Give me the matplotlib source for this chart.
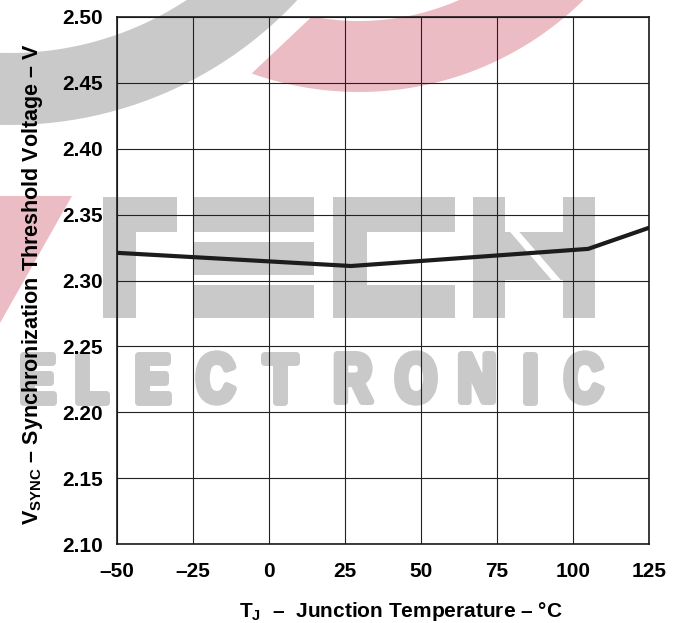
import numpy as np
import matplotlib
matplotlib.use('Agg')
import matplotlib.pyplot as plt
from matplotlib.patches import Polygon, Rectangle, PathPatch
from matplotlib.textpath import TextPath
from matplotlib.font_manager import FontProperties
from matplotlib.transforms import Affine2D

# junction temperature (degC) vs sync threshold voltage (V)
temp_c = [-50, 27, 105, 125]
v_sync = [2.321, 2.311, 2.324, 2.340]

x_ticks = [-50, -25, 0, 25, 50, 75, 100, 125]
y_ticks = [2.10, 2.15, 2.20, 2.25, 2.30, 2.35, 2.40, 2.45, 2.50]

WM_GRAY = '#c9c9c9'
WM_PINK = '#ecbcc5'

plt.rcParams['font.family'] = ['Liberation Sans', 'DejaVu Sans']
plt.rcParams['font.weight'] = 'bold'
plt.rcParams['mathtext.fontset'] = 'custom'
plt.rcParams['mathtext.rm'] = 'Liberation Sans:bold'
plt.rcParams['mathtext.bf'] = 'Liberation Sans:bold'


def ring_arc(cx, cy, r_in, r_out, a_out, a_end, a_in):
    # closed band between two arcs, ends need not be radial
    t_out = np.radians(np.linspace(a_out, a_end, 80))
    t_in = np.radians(np.linspace(a_end, a_in, 80))
    outer = np.column_stack([cx + r_out * np.cos(t_out), cy + r_out * np.sin(t_out)])
    inner = np.column_stack([cx + r_in * np.cos(t_in), cy + r_in * np.sin(t_in)])
    return np.vstack([outer, inner])


def draw_watermark(fig):
    # background logo, laid out in image pixels (y pointing down)
    bg = fig.add_axes([0, 0, 1, 1], zorder=0)
    bg.set_xlim(0, 674)
    bg.set_ylim(623, 0)
    bg.axis('off')
    bg.add_patch(Polygon(ring_arc(10, -268, 321, 393, 165, 20, 165), color=WM_GRAY, lw=0))
    bg.add_patch(Polygon(ring_arc(359, -228, 249, 320, 109.6, 30, 100.9), color=WM_PINK, lw=0))
    bg.add_patch(Polygon([(0, 196), (72, 196), (0, 323)], color=WM_PINK, lw=0))

    # blocky "TECH"
    blocks = [(103, 197, 177, 232), (103, 232, 136, 318),
              (193, 197, 314, 232), (193, 242, 314, 275), (193, 285, 314, 318),
              (333, 197, 455, 232), (333, 232, 367, 285), (333, 285, 455, 318),
              (473, 197, 505, 318), (563, 197, 595, 318), (505, 232, 563, 280)]
    for x0, y0, x1, y1 in blocks:
        bg.add_patch(Rectangle((x0, y0), x1 - x0, y1 - y0, color=WM_GRAY, lw=0))
    bg.plot([513, 558], [230, 282], color='white', lw=5, solid_capstyle='butt')

    # heavy condensed "ELECTRONIC" as outlines
    fp = FontProperties(family='Liberation Sans', weight='bold')
    s = 47 / TextPath((0, 0), 'E', size=1, prop=fp).get_extents().height
    for ch, xc in zip('ELECTRONIC', [38, 92, 153, 216, 280, 354, 416, 477, 530, 584]):
        tp = TextPath((0, 0), ch, size=1, prop=fp)
        ext = tp.get_extents()
        tr = (Affine2D().translate(-(ext.x0 + ext.width / 2), -(ext.y0 + ext.height / 2))
              .scale(0.78 * s, -s).translate(xc, 378))
        bg.add_patch(PathPatch(tr.transform_path(tp), color=WM_GRAY, lw=5, joinstyle='round'))


fig = plt.figure(figsize=(6.74, 6.23), dpi=100)
draw_watermark(fig)

ax = fig.add_axes([117 / 674, 1 - 544 / 623, 532 / 674, 527 / 623], zorder=1)
ax.patch.set_alpha(0)
ax.plot(temp_c, v_sync, color='#1c1c1c', lw=3, solid_joinstyle='round')

ax.set_xlim(-50, 125)
ax.set_ylim(2.10, 2.50)
ax.set_xticks(x_ticks)
ax.set_yticks(y_ticks)
ax.set_xticklabels([str(t).replace('-', '\u2013') for t in x_ticks])
ax.set_yticklabels([f'{v:.2f}' for v in y_ticks])
ax.grid(True, color='#222222', lw=0.8)
ax.tick_params(length=0, labelsize=15)
ax.tick_params(axis='x', pad=13)
ax.tick_params(axis='y', pad=10)
for s in ax.spines.values():
    s.set_linewidth(1.2)
    s.set_color('#1a1a1a')

fig.text(33 / 674, 1 - 284 / 623,
         r'$\mathrm{V_{SYNC}}$' + ' \u2013 Synchronization Threshold Voltage \u2013 V',
         rotation=90, ha='center', va='center', fontsize=15.5)
fig.text(401 / 674, 1 - 617 / 623,
         r'$\mathrm{T_J}$  ' + '\u2013  Junction Temperature \u2013 \u00b0C',
         ha='center', va='baseline', fontsize=15)

fig.savefig('out.png', dpi=100)
